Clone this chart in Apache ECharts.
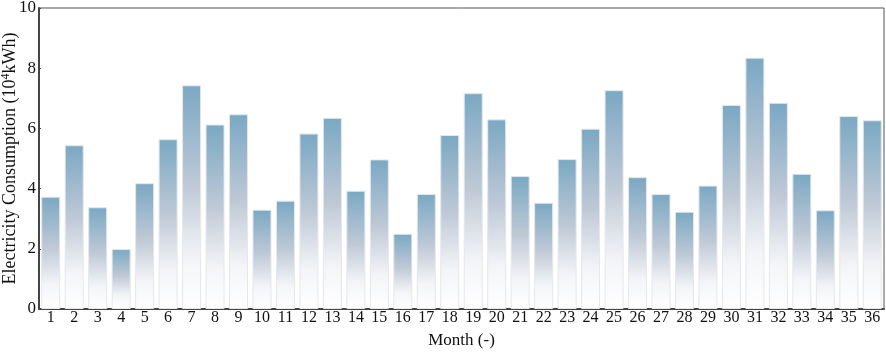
<!DOCTYPE html>
<html>
<head>
<meta charset="utf-8">
<script src="https://cdn.jsdelivr.net/npm/echarts@6/dist/echarts.min.js"></script>
<style>
  html, body { margin: 0; padding: 0; background: #fff; }
  #chart { width: 886px; height: 353px; }
</style>
</head>
<body>
<div id="chart"></div>
<script>
const months = Array.from({ length: 36 }, (_, i) => String(i + 1))
const consumption = [
  3.73, 5.44, 3.38, 1.99, 4.18, 5.64, 7.43, 6.13, 6.47, 3.30, 3.60, 5.83,
  6.35, 3.93, 4.97, 2.50, 3.82, 5.78, 7.17, 6.30, 4.42, 3.53, 4.98, 5.99,
  7.27, 4.38, 3.82, 3.23, 4.10, 6.78, 8.35, 6.85, 4.49, 3.28, 6.41, 6.27
]
const yTicks = [0, 2, 4, 6, 8, 10]

const chart = echarts.init(document.getElementById('chart'))
const font = '"Liberation Serif", "Times New Roman", serif'

const option = {
  backgroundColor: '#fff',
  animation: false,
  grid: {
    left: 39,
    right: 2,
    top: 8,
    bottom: 44,
    containLabel: false,
    outerBoundsMode: 'none',
    show: true,
    borderColor: '#555',
    borderWidth: 1
  },
  xAxis: {
    type: 'category',
    data: months,
    name: 'Month (-)',
    nameLocation: 'middle',
    nameGap: 23,
    nameMoveOverlap: false,
    nameTextStyle: { fontFamily: font, fontSize: 17, color: '#111' },
    axisLine: { lineStyle: { color: '#444', width: 2 } },
    axisTick: { show: false },
    axisLabel: { fontFamily: font, fontSize: 16, color: '#111', margin: 1, interval: 0 }
  },
  yAxis: {
    type: 'value',
    min: yTicks[0],
    max: yTicks[yTicks.length - 1],
    interval: 2,
    name: '{n|Electricity Consumption (10}{s|4}{n|kWh)}',
    nameLocation: 'middle',
    nameGap: 19,
    nameRotate: 90,
    nameMoveOverlap: false,
    nameTextStyle: {
      rich: {
        n: { fontFamily: font, fontSize: 18, color: '#111' },
        s: { fontFamily: font, fontSize: 12, color: '#111', verticalAlign: 'top', padding: [0, 0, 8, 0] }
      }
    },
    axisLine: { show: true, lineStyle: { color: '#444', width: 2 } },
    axisTick: { show: true, inside: true, length: 2, lineStyle: { color: '#444' } },
    splitLine: { show: false },
    axisLabel: { fontFamily: font, fontSize: 17, color: '#111', margin: 3 }
  },
  series: [{
    type: 'bar',
    data: consumption,
    barCategoryGap: '19%',
    itemStyle: {
      borderColor: '#e4e7eb',
      borderWidth: 1,
      color: new echarts.graphic.LinearGradient(0, 0, 0, 1, [
        { offset: 0, color: '#7aa8c3' },
        { offset: 0.45, color: '#bfc9d6' },
        { offset: 0.78, color: '#f4f5f8' },
        { offset: 1, color: '#ffffff' }
      ])
    }
  }]
}

chart.setOption(option)
</script>
</body>
</html>
